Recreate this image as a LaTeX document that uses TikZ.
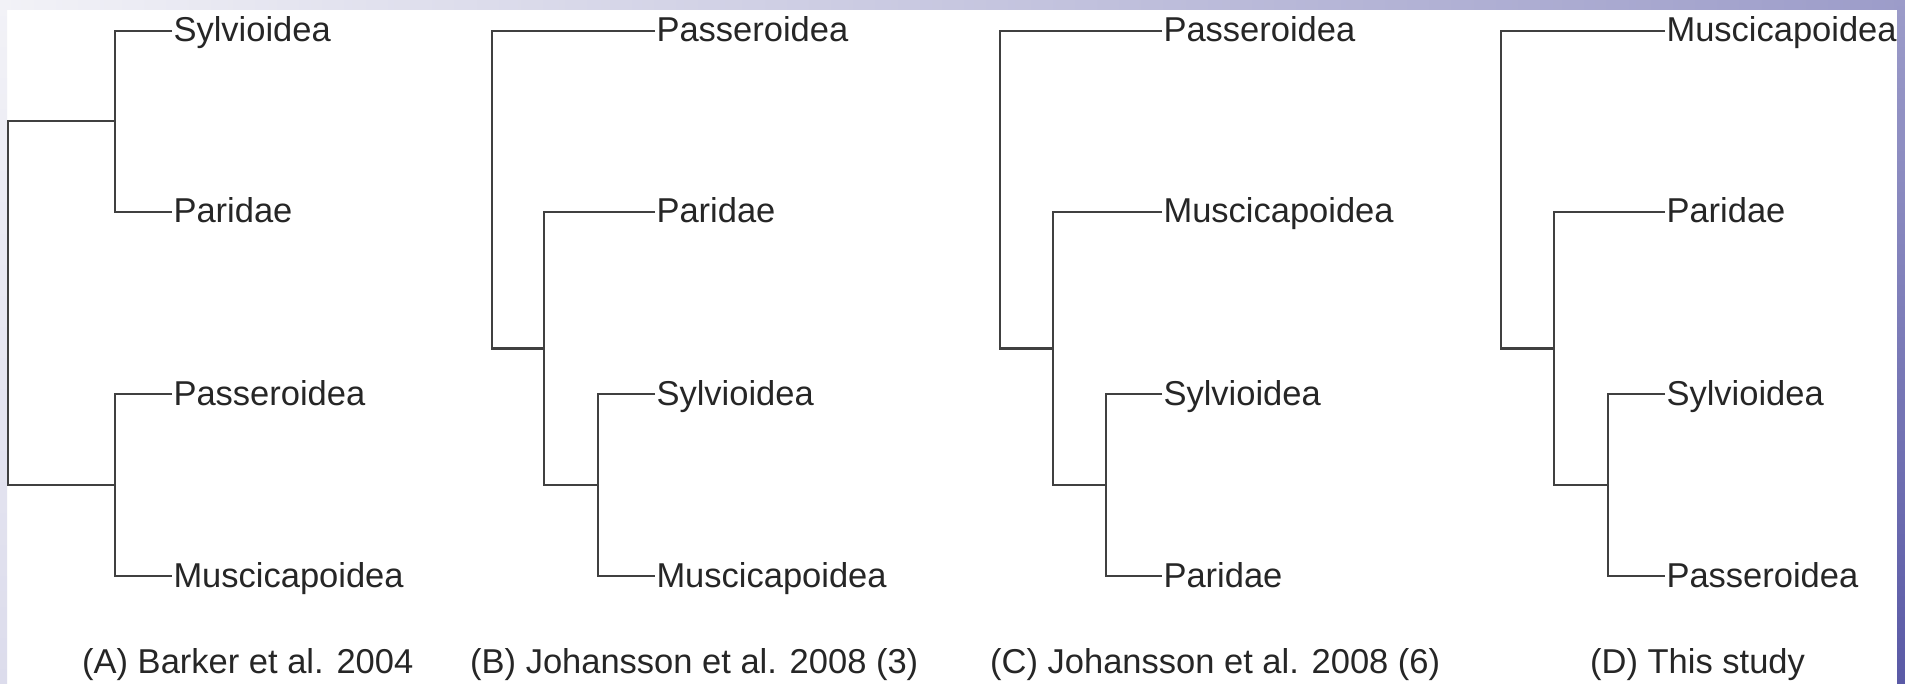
\documentclass[tikz,border=0pt]{standalone}
\usepackage{fontspec}
\setmainfont{Liberation Sans}
\definecolor{framelight}{HTML}{F2F2F7}
\definecolor{framemid}{HTML}{DCDCEC}
\definecolor{framepurple}{HTML}{9C9CC9}
\definecolor{framedark}{HTML}{5A5AA6}
\begin{document}
\begin{tikzpicture}[x=1pt, y=-1pt,
        branch/.style={draw=black!75, line width=2pt},
        leaf/.style={anchor=west, inner sep=0pt, outer sep=1.5pt, text height=22pt, text depth=0pt,
            text=black!85, font=\fontsize{34.5}{40}\selectfont},
        caption/.style={anchor=base west, inner sep=0pt, text=black!85, font=\fontsize{34.5}{40}\selectfont}]
        \useasboundingbox (0,0) rectangle (1905,684);

        % slide frame
        \fill[white] (0,0) rectangle (1905,684);
        \shade[top color=framelight, bottom color=framemid] (0,0) rectangle (7,684);
        \shade[left color=framelight, right color=framepurple] (0,0) rectangle (1905,10);
        \shade[top color=framepurple, bottom color=framedark] (1897,0) rectangle (1905,684);

        % (A)
        \node[leaf] (a1) at (172,31) {Sylvioidea};
        \node[leaf] (a2) at (172,212) {Paridae};
        \node[leaf] (a3) at (172,394) {Passeroidea};
        \node[leaf] (a4) at (172,576) {Muscicapoidea};
        \coordinate (a12) at (115,121.5);
        \coordinate (a34) at (115,485);
        \coordinate (aroot) at (8,303);
        \draw[branch] (a1.west) -| (a12) |- (a2.west);
        \draw[branch] (a3.west) -| (a34) |- (a4.west);
        \draw[branch] (a12) -| (aroot) |- (a34);

        % (B)
        \node[leaf] (b1) at (655,31) {Passeroidea};
        \node[leaf] (b2) at (655,212) {Paridae};
        \node[leaf] (b3) at (655,394) {Sylvioidea};
        \node[leaf] (b4) at (655,576) {Muscicapoidea};
        \coordinate (b34) at (598,485);
        \coordinate (b234) at (544,348.5);
        \coordinate (broot) at (492,190);
        \draw[branch] (b3.west) -| (b34) |- (b4.west);
        \draw[branch] (b2.west) -| (b234) |- (b34);
        \draw[branch] (b1.west) -| (broot) |- (b234);

        % (C)
        \node[leaf] (c1) at (1162,31) {Passeroidea};
        \node[leaf] (c2) at (1162,212) {Muscicapoidea};
        \node[leaf] (c3) at (1162,394) {Sylvioidea};
        \node[leaf] (c4) at (1162,576) {Paridae};
        \coordinate (c34) at (1106,485);
        \coordinate (c234) at (1053,348.5);
        \coordinate (croot) at (1000,190);
        \draw[branch] (c3.west) -| (c34) |- (c4.west);
        \draw[branch] (c2.west) -| (c234) |- (c34);
        \draw[branch] (c1.west) -| (croot) |- (c234);

        % (D)
        \node[leaf] (d1) at (1665,31) {Muscicapoidea};
        \node[leaf] (d2) at (1665,212) {Paridae};
        \node[leaf] (d3) at (1665,394) {Sylvioidea};
        \node[leaf] (d4) at (1665,576) {Passeroidea};
        \coordinate (d34) at (1608,485);
        \coordinate (d234) at (1554,348.5);
        \coordinate (droot) at (1501,190);
        \draw[branch] (d3.west) -| (d34) |- (d4.west);
        \draw[branch] (d2.west) -| (d234) |- (d34);
        \draw[branch] (d1.west) -| (droot) |- (d234);

        % captions
        \node[caption] (capa) at (82,673) {(A) Barker et al. 2004};
        \node[caption] (capb) at (470,673) {(B) Johansson et al. 2008 (3)};
        \node[caption] (capc) at (990,673) {(C) Johansson et al. 2008 (6)};
        \node[caption] (capd) at (1590,673) {(D) This study};
    \end{tikzpicture}
\end{document}
